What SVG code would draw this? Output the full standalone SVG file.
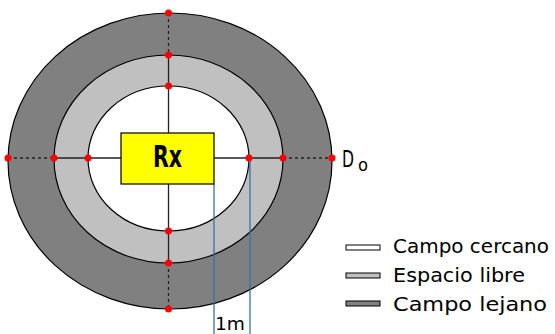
<svg xmlns="http://www.w3.org/2000/svg" width="555" height="334" viewBox="0 0 555 334">
<defs>
<style>
.ring{stroke:#000;stroke-width:1.2}
.ln{stroke:#222;stroke-width:1.3;fill:none}
.dash{stroke:#222;stroke-width:1.3;stroke-dasharray:3 3;fill:none}
.blue{stroke:#3a6ea5;stroke-width:1.3;fill:none}
.dot{fill:#ff0000}
.t{font-family:"DejaVu Sans",sans-serif;fill:#000}
.leg{stroke:#000;stroke-width:1}
</style>
</defs>
<rect width="555" height="334" fill="#fff"/>
<g id="far-field">
<ellipse class="ring" cx="170" cy="161" rx="162" ry="148" fill="#808080"/>
</g>
<g id="free-space">
<ellipse class="ring" cx="168.5" cy="159" rx="114.5" ry="104" fill="#c0c0c0"/>
</g>
<g id="near-field">
<ellipse class="ring" cx="168.5" cy="158.5" rx="80.5" ry="72.5" fill="#fff"/>
</g>
<g id="connectors">
<line class="dash" x1="168.5" y1="13" x2="168.5" y2="55"/>
<line class="dash" x1="168.5" y1="263" x2="168.5" y2="309"/>
<line class="dash" x1="8" y1="158" x2="54" y2="158"/>
<line class="dash" x1="283" y1="158" x2="332" y2="158"/>
<line class="ln" x1="168.5" y1="55" x2="168.5" y2="133"/>
<line class="ln" x1="168.5" y1="184" x2="168.5" y2="263"/>
<line class="ln" x1="54" y1="158" x2="121" y2="158"/>
<line class="ln" x1="214" y1="158" x2="283" y2="158"/>
<line class="blue" x1="214" y1="184" x2="214" y2="334"/>
<line class="blue" x1="250" y1="158" x2="250" y2="334"/>
</g>
<g id="rx">
<rect x="121" y="133" width="93" height="51" fill="#ffff00" stroke="#000" stroke-width="1.2"/>
<text class="t" x="167.5" y="167" font-size="30" font-weight="bold" text-anchor="middle" textLength="29" lengthAdjust="spacingAndGlyphs">Rx</text>
</g>
<g id="points">
<circle class="dot" cx="168.5" cy="13" r="3.5"/>
<circle class="dot" cx="168.5" cy="55" r="3.5"/>
<circle class="dot" cx="168.5" cy="86" r="3.5"/>
<circle class="dot" cx="168.5" cy="231" r="3.5"/>
<circle class="dot" cx="168.5" cy="263" r="3.5"/>
<circle class="dot" cx="168.5" cy="309" r="3.5"/>
<circle class="dot" cx="8" cy="158" r="3.5"/>
<circle class="dot" cx="54" cy="158" r="3.5"/>
<circle class="dot" cx="88" cy="158" r="3.5"/>
<circle class="dot" cx="249" cy="158" r="3.5"/>
<circle class="dot" cx="283" cy="158" r="3.5"/>
<circle class="dot" cx="332" cy="158" r="3.5"/>
</g>
<g id="do-label">
<text class="t" x="342" y="167" font-size="23"><tspan textLength="12" lengthAdjust="spacingAndGlyphs">D</tspan><tspan x="358" y="171" font-size="18" textLength="10" lengthAdjust="spacingAndGlyphs">o</tspan></text>
</g>
<g id="one-m">
<text class="t" x="215" y="330" font-size="18" textLength="30" lengthAdjust="spacingAndGlyphs">1m</text>
</g>
<g id="legend">
<rect class="leg" x="346" y="245" width="34" height="5" fill="#fff"/>
<rect class="leg" x="346" y="273" width="34" height="5" fill="#c0c0c0"/>
<rect class="leg" x="346" y="301" width="34" height="5" fill="#808080"/>
<text class="t" x="393" y="253" font-size="20" textLength="156" lengthAdjust="spacingAndGlyphs">Campo cercano</text>
<text class="t" x="393" y="282" font-size="20" textLength="132" lengthAdjust="spacingAndGlyphs">Espacio libre</text>
<text class="t" x="393" y="311" font-size="20" textLength="154" lengthAdjust="spacingAndGlyphs">Campo lejano</text>
</g>
</svg>
